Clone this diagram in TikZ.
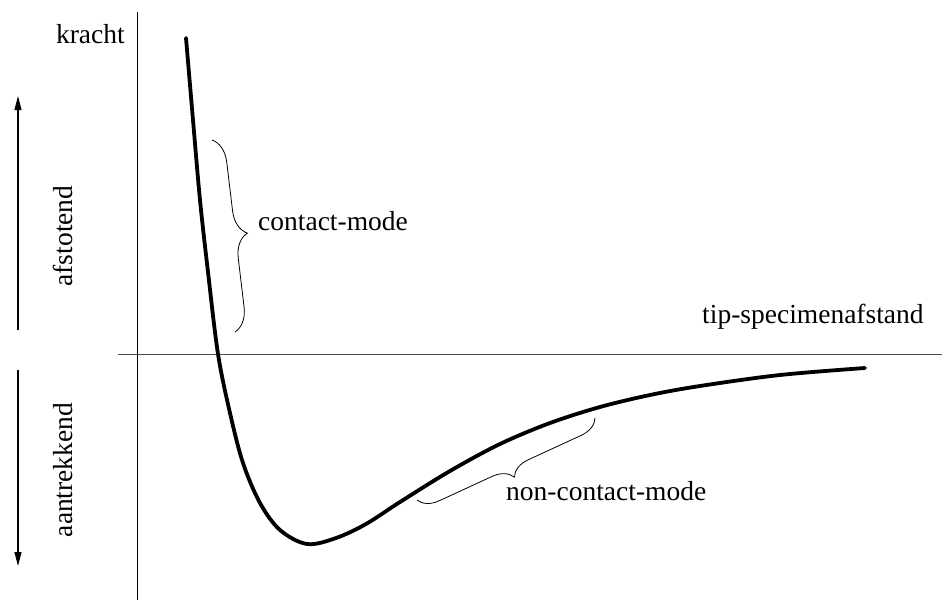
\documentclass[tikz,border=0pt]{standalone}
\usepackage{fontspec}
\setmainfont{Liberation Serif}
\usetikzlibrary{arrows.meta,decorations.pathreplacing}

\begin{document}
\begin{tikzpicture}[x=1pt,y=-1pt,
    lbl/.style={inner sep=0pt,font=\fontsize{27.5}{33}\selectfont},
    brc/.style={decorate,decoration={brace,amplitude=#1},line width=0.8pt},
    dirarrow/.style={line width=1.2pt,-{Triangle[length=14pt,width=7pt]}}]
    \useasboundingbox (0,0) rectangle (942,605);
    % Axes
    \coordinate (ytop) at (137,12);
    \coordinate (ybot) at (137,600);
    \coordinate (xleft) at (118,354);
    \coordinate (xright) at (942,354);
    \draw[line width=1pt] (ytop) -- (ybot);
    \draw[line width=1pt, black!70] (xleft) -- (xright);
    \node[lbl, anchor=base east] (kracht) at (125,43) {kracht};
    \node[lbl, anchor=base west] (afstand) at (702,323) {tip-specimenafstand};

    % Direction arrows
    \coordinate (upfrom) at (18,330);
    \coordinate (upto) at (18,96);
    \coordinate (downfrom) at (18,370);
    \coordinate (downto) at (18,566);
    \draw[dirarrow] (upfrom) -- (upto);
    \draw[dirarrow] (downfrom) -- (downto);
    \node[lbl, rotate=90] (afstotend) at (63,236) {afstotend};
    \node[lbl, rotate=90] (aantrekkend) at (63,470) {aantrekkend};

    % Force curve
    \draw[line width=3.8pt, line cap=round] plot[smooth, tension=0.55] coordinates {
        (186,38) (193,120) (200,200) (208,272) (218,354) (230,413)
        (243,463) (260,503) (280,530) (307,544) (336,538) (366,524)
        (400,502) (450,471) (500,444) (550,423) (600,407) (650,395)
        (700,386) (780,375) (865,368)};

    % Braces
    \coordinate (cmtop) at (212,140);
    \coordinate (cmbot) at (235,332);
    \draw[brc=24pt] (cmtop) -- (cmbot);
    \node[lbl, anchor=base west] (contact) at (258,230) {contact-mode};
    \coordinate (ncright) at (595,418);
    \coordinate (ncleft) at (417,500);
    \draw[brc=20pt] (ncright) -- (ncleft);
    \node[lbl, anchor=base west] (noncontact) at (506,500) {non-contact-mode};
\end{tikzpicture}
\end{document}
